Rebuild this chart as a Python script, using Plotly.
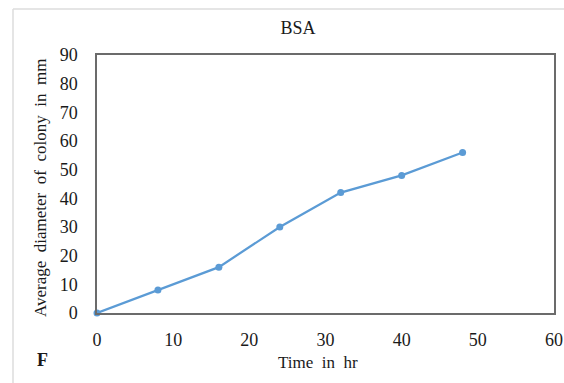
import plotly.graph_objects as go

time_hr = [0, 8, 16, 24, 32, 40, 48]
diameter_mm = [0, 8, 16, 30, 42, 48, 56]
x_ticks = [0, 10, 20, 30, 40, 50, 60]
y_ticks = [0, 10, 20, 30, 40, 50, 60, 70, 80, 90]

W, H = 564, 383
L, R, T, B = 97, 10, 55, 70
pw, ph = W - L - R, H - T - B

def px(x):
    return (x - L) / pw

def py(y):
    return (H - B - y) / ph

font = "Liberation Serif, Times New Roman, serif"
fig = go.Figure()
fig.add_trace(go.Scatter(
    x=time_hr, y=diameter_mm, mode="lines+markers",
    line=dict(color="#5B9BD5", width=2.25),
    marker=dict(color="#5B9BD5", size=7),
    showlegend=False, cliponaxis=False,
))

fig.update_layout(
    width=W, height=H,
    margin=dict(l=L, r=R, t=T, b=B, autoexpand=False),
    paper_bgcolor="white", plot_bgcolor="white",
    font=dict(family=font, color="#1a1a1a"),
    title=dict(text="BSA", x=298 / W, xanchor="center", y=1 - 28 / H, yanchor="middle",
               font=dict(size=18, family=font, color="#1a1a1a")),
    xaxis=dict(range=[0, 60], tickvals=x_ticks, showgrid=False, zeroline=False,
               showline=True, mirror=True, linecolor="#6b6b6b", linewidth=1.5,
               ticks="", tickfont=dict(size=18, family=font), ticklabelstandoff=10,
               automargin=False),
    yaxis=dict(range=[0, 90], tickvals=y_ticks, showgrid=False, zeroline=False,
               showline=True, mirror=True, linecolor="#6b6b6b", linewidth=1.5,
               ticks="", tickfont=dict(size=18, family=font), ticklabelstandoff=14,
               automargin=False),
    annotations=[
        dict(text="Time\u00a0 in\u00a0 hr", xref="paper", yref="paper", x=px(318), y=py(362),
             xanchor="center", yanchor="middle", showarrow=False, font=dict(size=17, family=font)),
        dict(text="Average\u00a0 diameter\u00a0 of\u00a0 colony\u00a0 in\u00a0 mm", xref="paper", yref="paper",
             x=px(40), y=py(188), textangle=-90,
             xanchor="center", yanchor="middle", showarrow=False, font=dict(size=17, family=font)),
        dict(text="<b>F</b>", xref="paper", yref="paper", x=px(42), y=py(360),
             xanchor="center", yanchor="middle", showarrow=False, font=dict(size=18, family=font)),
    ],
    shapes=[
        dict(type="line", xref="paper", yref="paper", x0=px(13), x1=px(564), y0=py(9), y1=py(9),
             line=dict(color="#dddddd", width=1.5)),
        dict(type="line", xref="paper", yref="paper", x0=px(13), x1=px(13), y0=py(9), y1=py(383),
             line=dict(color="#dddddd", width=1.5)),
    ],
)

fig.write_html(
    "out.html",
    config={"displayModeBar": False},
    post_script="document.body.style.margin='0';document.body.style.overflow='hidden';",
)
